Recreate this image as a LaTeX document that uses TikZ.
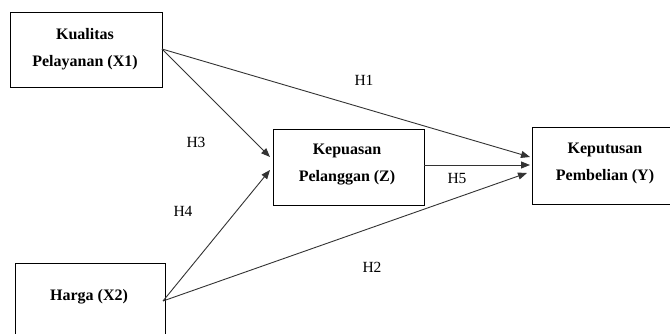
\documentclass[tikz,border=0pt]{standalone}
\usepackage{fontspec}
\setmainfont{Liberation Serif}
\usetikzlibrary{arrows.meta}
\tikzset{
  varbox/.style={draw=black, line width=1pt, rectangle, inner sep=0pt},
  vartext/.style={font=\fontsize{16}{27}\selectfont\bfseries, align=center, inner sep=0pt},
  hyp/.style={font=\fontsize{15.5}{18}\selectfont, inner sep=0pt},
  path/.style={draw=black!80, line width=0.9pt, -{Triangle[length=9pt,width=7pt]}}
}
\begin{document}
\begin{tikzpicture}[x=1pt,y=-1pt]
\useasboundingbox (0,0) rectangle (670,334);
\clip (0,0) rectangle (670,334);
\fill[white] (0,0) rectangle (670,334);

% variable boxes
\node[varbox, minimum width=152pt, minimum height=75pt] (x1) at (86,50.5) {};
\node[varbox, minimum width=151pt, minimum height=76pt] (z) at (348.5,168) {};
\node[varbox, minimum width=143pt, minimum height=77pt] (y) at (603.5,166.5) {};
\node[varbox, minimum width=150pt, minimum height=82pt] (x2) at (90,304) {};

% box labels
\node[vartext] (tx1) at (85,49) {Kualitas\\Pelayanan (X1)};
\node[vartext] (tz) at (347,165) {Kepuasan\\Pelanggan (Z)};
\node[vartext] (ty) at (605,163.5) {Keputusan\\Pembelian (Y)};
\node[vartext] (tx2) at (89,297) {Harga (X2)};

% connector end points
\coordinate (x1o) at (162,49);
\coordinate (x2o) at (163,301);
\coordinate (zin1) at (270,157);
\coordinate (zin2) at (270,170);
\coordinate (zout) at (424,165);
\coordinate (yin1) at (530,157);
\coordinate (yin2) at (530,165);
\coordinate (yin3) at (527,173);

% hypothesis paths
\draw[path] (x1o) -- (yin1);
\draw[path] (x1o) -- (zin1);
\draw[path] (x2o) -- (zin2);
\draw[path] (x2o) -- (yin3);
\draw[path] (zout) -- (yin2);

% hypothesis labels
\node[hyp] (h1) at (364,80) {H1};
\node[hyp] (h3) at (196,142) {H3};
\node[hyp] (h5) at (457,179) {H5};
\node[hyp] (h4) at (183,211) {H4};
\node[hyp] (h2) at (372,267) {H2};
\end{tikzpicture}
\end{document}
